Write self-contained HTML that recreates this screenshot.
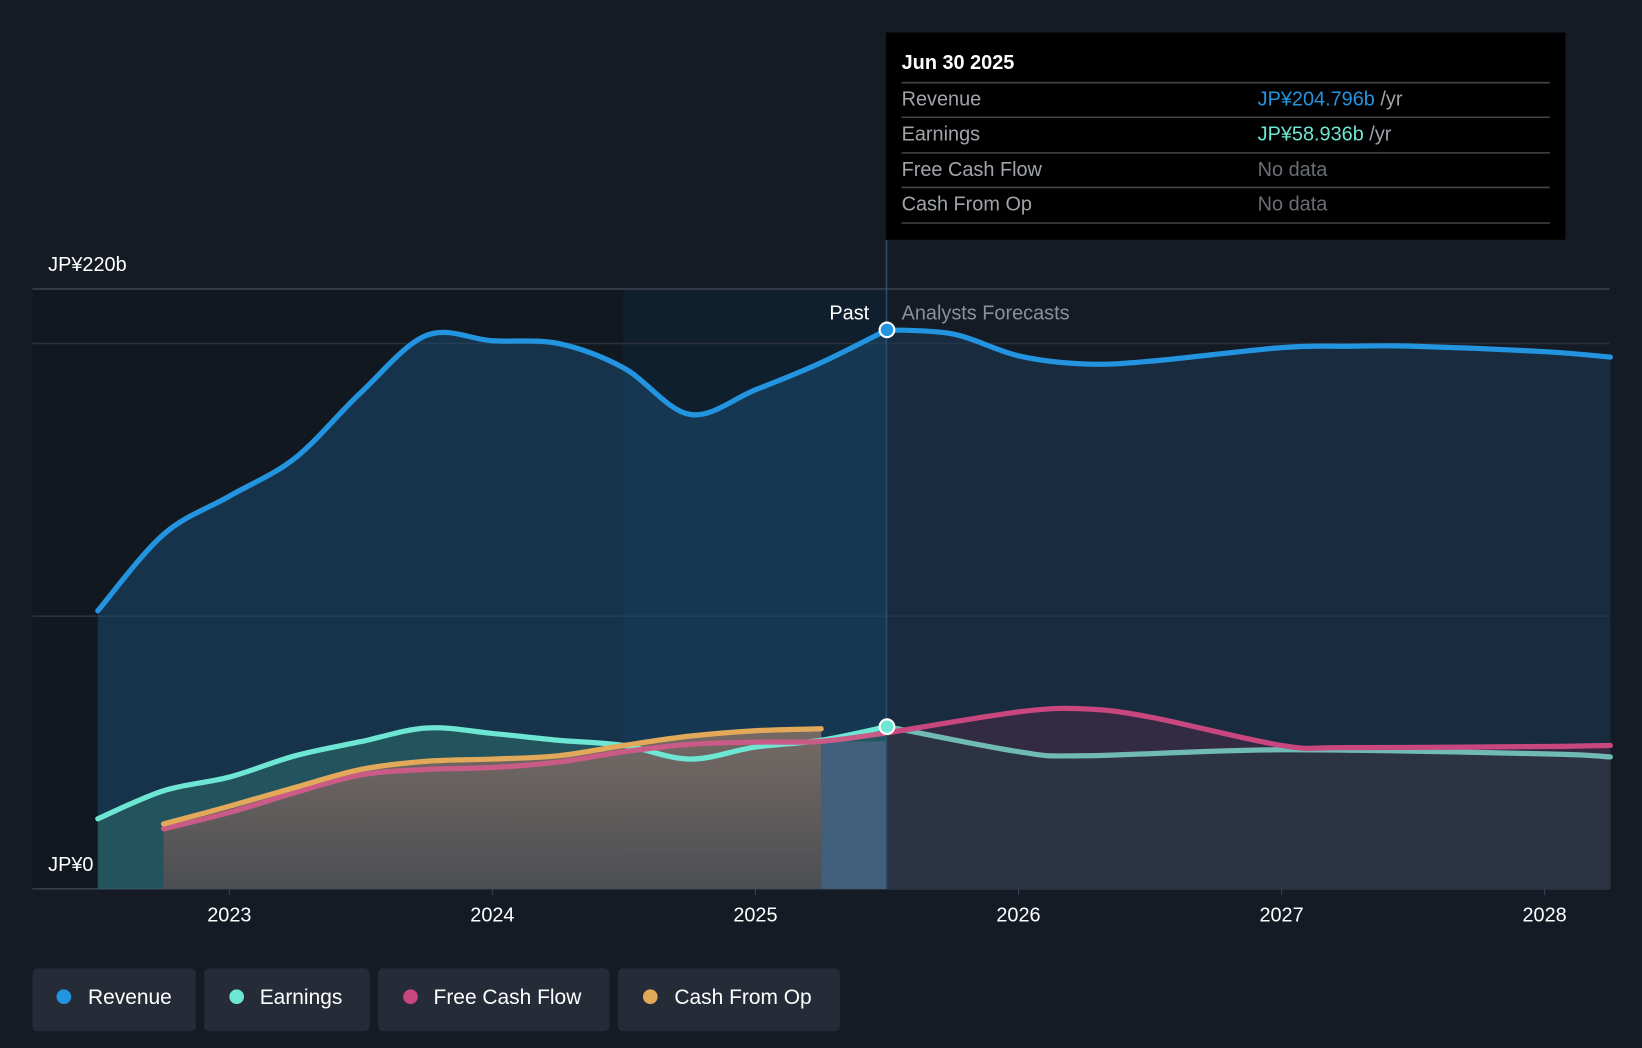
<!DOCTYPE html>
<html><head><meta charset="utf-8"><style>
html,body{margin:0;padding:0;background:#151b24;overflow:hidden}
svg{display:block;font-family:"Liberation Sans","Noto Sans CJK JP",sans-serif}
</style></head><body>
<svg id="chart" width="1642" height="1048" viewBox="0 0 1568 1001" preserveAspectRatio="none" xmlns="http://www.w3.org/2000/svg">
<defs>
<linearGradient id="cfoGrad" x1="0" y1="0" x2="0" y2="1"><stop offset="0" stop-color="#7a6c66"/><stop offset="1" stop-color="#4e4e52"/></linearGradient>
</defs>
<rect x="0" y="0" width="1568" height="1001" fill="#151b24"/>
<rect x="31" y="276" width="564" height="573" fill="#121820"/>
<rect x="595" y="276" width="251" height="573" fill="#101f2e"/>
<g id="grid"></g>
<g id="areas"></g>
<g id="lines"></g>
<line x1="846.5" y1="229" x2="846.5" y2="849" stroke="#2a4f6e" stroke-width="1.5"/>
<text x="830" y="305" fill="#ffffff" font-size="19" text-anchor="end">Past</text>
<text x="861" y="305" fill="#8a9099" font-size="19">Analysts Forecasts</text>
<g id="dots"></g>
<g id="axis"></g>
<g>
<rect x="846" y="31" width="649" height="198" fill="#000000"/>
<text x="861" y="66" fill="#fff" font-size="19" font-weight="bold">Jun 30 2025</text>
<line x1="861" y1="79" x2="1480" y2="79" stroke="#444" stroke-width="1.5"/>
<text x="861" y="101" fill="#a0a4aa" font-size="19">Revenue</text>
<text x="1201" y="101" font-size="19"><tspan fill="#2394e0">JP¥204.796b</tspan><tspan fill="#a0a4aa"> /yr</tspan></text>
<line x1="861" y1="112" x2="1480" y2="112" stroke="#444" stroke-width="1.5"/>
<text x="861" y="134" fill="#a0a4aa" font-size="19">Earnings</text>
<text x="1201" y="134" font-size="19"><tspan fill="#6de6d3">JP¥58.936b</tspan><tspan fill="#a0a4aa"> /yr</tspan></text>
<line x1="861" y1="146" x2="1480" y2="146" stroke="#444" stroke-width="1.5"/>
<text x="861" y="168" fill="#a0a4aa" font-size="19">Free Cash Flow</text>
<text x="1201" y="168" fill="#6a6e74" font-size="19">No data</text>
<line x1="861" y1="179" x2="1480" y2="179" stroke="#444" stroke-width="1.5"/>
<text x="861" y="201" fill="#a0a4aa" font-size="19">Cash From Op</text>
<text x="1201" y="201" fill="#6a6e74" font-size="19">No data</text>
<line x1="861" y1="213" x2="1480" y2="213" stroke="#444" stroke-width="1.5"/>
</g>
<g>
<g><rect x="31" y="925" width="156" height="60" rx="5" fill="#262c37"/><circle cx="61" cy="952" r="7" fill="#2394e0"/><text x="84" y="959" fill="#fff" font-size="20">Revenue</text></g>
<g><rect x="195" y="925" width="158" height="60" rx="5" fill="#262c37"/><circle cx="226" cy="952" r="7" fill="#6de6d3"/><text x="248" y="959" fill="#fff" font-size="20">Earnings</text></g>
<g><rect x="361" y="925" width="221" height="60" rx="5" fill="#262c37"/><circle cx="392" cy="952" r="7" fill="#c8477f"/><text x="414" y="959" fill="#fff" font-size="20">Free Cash Flow</text></g>
<g><rect x="590" y="925" width="212" height="60" rx="5" fill="#262c37"/><circle cx="621" cy="952" r="7" fill="#e3a95a"/><text x="644" y="959" fill="#fff" font-size="20">Cash From Op</text></g>
</g>
</svg>
<script>
const years = [2023, 2024, 2025, 2026, 2027, 2028];
const yTickLabels = ["JP¥0", "JP¥220b"];
const revDates = [2022.5,2022.75,2023,2023.25,2023.5,2023.75,2024,2024.25,2024.5,2024.75,2025,2025.25,2025.5];
const revValues = [102,130,144,158,182,203,201,200,191,174,183,193,205];
const revFcDates = [2025.5,2025.75,2026,2026.25,2026.5,2027,2027.25,2027.5,2028,2028.25];
const revFcValues = [205,203.5,195.5,192.5,193.5,198.5,199,199,197,195];
const earnDates = revDates;
const earnValues = [25.7,36,41,48.8,54,59,57,54.5,52.6,47.6,52,54.5,59.5];
const earnFcDates = [2025.5,2026,2026.25,2027,2028,2028.25];
const earnFcValues = [59.5,50.3,48.8,51,49.5,48.4];
const fcfDates = [2022.75,2023,2023.25,2023.5,2023.75,2024,2024.25,2024.5,2024.75,2025,2025.25,2025.5];
const fcfValues = [22,28,35.3,41.8,43.8,44.5,46.5,50.3,53,53.8,54.1,57.2];
const fcfFcDates = [2025.5,2026,2026.25,2026.5,2027,2027.25,2028,2028.25];
const fcfFcValues = [57.2,64.9,66,63,52.6,51.8,52.2,52.6];
const cfoDates = [2022.75,2023,2023.25,2023.5,2023.75,2024,2024.25,2024.5,2024.75,2025,2025.25];
const cfoValues = [23.8,30.3,37.2,43.8,46.8,47.6,48.8,52.6,56,58,58.7];

const NS="http://www.w3.org/2000/svg";
const X = d => 219 + (d-2023)*251.2;
const Y = v => 849 - v*(573/220);
function mk(tag, attrs, parent){const e=document.createElementNS(NS,tag);for(const k in attrs)e.setAttribute(k,attrs[k]);parent.appendChild(e);return e;}
function path(ds, vs){
  const p = ds.map((d,i)=>[X(d),Y(vs[i])]);
  let s = `M${p[0][0]},${p[0][1]}`;
  for(let i=0;i<p.length-1;i++){
    const p0=p[i-1]||p[i], p1=p[i], p2=p[i+1], p3=p[i+2]||p2;
    const c1=[p1[0]+(p2[0]-p0[0])/6, p1[1]+(p2[1]-p0[1])/6];
    const c2=[p2[0]-(p3[0]-p1[0])/6, p2[1]-(p3[1]-p1[1])/6];
    s+=` C${c1[0]},${c1[1]} ${c2[0]},${c2[1]} ${p2[0]},${p2[1]}`;
  }
  return s;
}
function area(ds, vs){const l=path(ds,vs);return l+` L${X(ds[ds.length-1])},849 L${X(ds[0])},849 Z`;}

const grid=document.getElementById('grid');
[0,100,200,220].forEach(v=>{
  const l=mk('line',{x1:31,x2:1537,y1:Y(v),y2:Y(v),stroke:v===220||v===0?'#3a414c':'#2a313b','stroke-width':1.5},grid);
  
  
});

const A=document.getElementById('areas');
let e;
e=mk('path',{d:area(revDates,revValues),fill:'#1c4a70','fill-opacity':0.55},A);


e=mk('path',{d:area(revFcDates,revFcValues),fill:'#1d3a55','fill-opacity':0.55},A);


e=mk('path',{d:area(earnDates,earnValues),fill:'#2b6a6a','fill-opacity':0.6},A);


e=mk('path',{d:area(fcfFcDates,fcfFcValues),fill:'#3a2a45','fill-opacity':0.8},A);


e=mk('path',{d:area(earnFcDates,earnFcValues),fill:'#2c3342','fill-opacity':1},A);


e=mk('path',{d:area(cfoDates,cfoValues),fill:'url(#cfoGrad)','fill-opacity':0.95},A);


const lastCfo=cfoDates[cfoDates.length-1];
e=mk('rect',{x:X(lastCfo),y:Y(fcfValues[fcfValues.length-2]),width:X(2025.5)-X(lastCfo),height:849-Y(fcfValues[fcfValues.length-2]),fill:'#46607e','fill-opacity':0.9},A);



const L=document.getElementById('lines');
function line(name,ds,vs,col,op){const p=mk('path',{d:path(ds,vs),fill:'none',stroke:col,'stroke-width':5,'stroke-linecap':'round','stroke-opacity':op||1},L);}
line('earnings-line-forecast',earnFcDates,earnFcValues,'#7dd3c8',0.85);
line('fcf-line-forecast',fcfFcDates,fcfFcValues,'#c8477f');
line('earnings-line',earnDates,earnValues,'#6de6d3');
line('fcf-line',fcfDates,fcfValues,'#c95b86');
line('cfo-line',cfoDates,cfoValues,'#e3a95a');
line('revenue-line-forecast',revFcDates,revFcValues,'#2394e0');
line('revenue-line',revDates,revValues,'#2394e0');

const D=document.getElementById('dots');
e=mk('circle',{cx:X(2025.5),cy:Y(revValues[revValues.length-1]),r:7,fill:'#2394e0',stroke:'#fff','stroke-width':2},D);


e=mk('circle',{cx:X(2025.5),cy:Y(earnValues[earnValues.length-1]),r:7,fill:'#6de6d3',stroke:'#fff','stroke-width':2},D);



const AX=document.getElementById('axis');
years.forEach(y=>{
  const t=mk('text',{x:X(y),y:880,fill:'#ffffff','font-size':19,'text-anchor':'middle'},AX);t.textContent=y;
  
  
  const k=mk('line',{x1:X(y),x2:X(y),y1:849,y2:855,stroke:'#3a414c'},AX);
  
  
});
let t=mk('text',{x:46,y:832,fill:'#fff','font-size':19},AX);t.textContent=yTickLabels[0];


t=mk('text',{x:46,y:259,fill:'#fff','font-size':19},AX);t.textContent=yTickLabels[1];


</script>
</body></html>
